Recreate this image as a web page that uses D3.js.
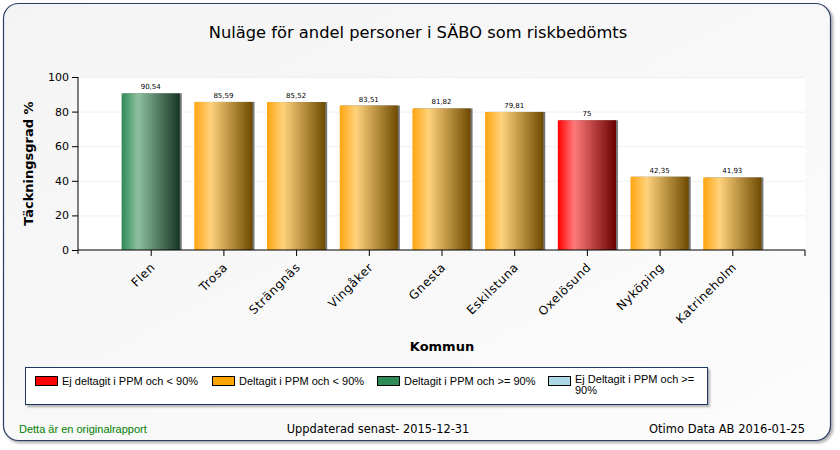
<!DOCTYPE html>
<html>
<head>
<meta charset="utf-8">
<script src="https://cdn.jsdelivr.net/npm/d3@7"></script>
<style>
  body { margin: 0; background: #fff; }
  svg { display: block; }
</style>
</head>
<body>
<svg id="chart" width="840" height="450"></svg>
<script>
// data
var kommuner = ["Flen", "Trosa", "Strängnäs", "Vingåker", "Gnesta", "Eskilstuna", "Oxelösund", "Nyköping", "Katrineholm"];
var andel = [90.54, 85.59, 85.52, 83.51, 81.82, 79.81, 75, 42.35, 41.93];
var grupp = ["green", "orange", "orange", "orange", "orange", "orange", "red", "orange", "orange"];
var yTicks = [0, 20, 40, 60, 80, 100];
var legendText = ["Ej deltagit i PPM och < 90%", "Deltagit i PPM och < 90%", "Deltagit i PPM och >= 90%", "Ej Deltagit i PPM och >= 90%"];
var legendColor = ["#ff0000", "#ffa500", "#2e8b57", "#add8e6"];

var svg = d3.select("#chart");
var verdana = "Verdana, 'DejaVu Sans', sans-serif";
var arial = "Arial, 'Liberation Sans', sans-serif";

var defs = svg.append("defs");

// bar gradients: bright left, light band, dark right
var grads = {
  orange: ["#ffa510", "#ffd27c", "#6e4a00"],
  green: ["#2e8b57", "#8fc0a0", "#153524"],
  red: ["#ff0000", "#ff7a7a", "#6a0000"]
};
Object.keys(grads).forEach(function(k) {
  var g = defs.append("linearGradient").attr("id", "g-" + k)
      .attr("x1", "0%").attr("x2", "100%").attr("y1", "0%").attr("y2", "0%");
  g.append("stop").attr("offset", "0%").attr("stop-color", grads[k][0]);
  g.append("stop").attr("offset", "28%").attr("stop-color", grads[k][1]);
  g.append("stop").attr("offset", "100%").attr("stop-color", grads[k][2]);
});

var bg = defs.append("linearGradient").attr("id", "bg")
    .attr("x1", "0%").attr("y1", "0%").attr("x2", "100%").attr("y2", "100%");
bg.append("stop").attr("offset", "0%").attr("stop-color", "#f4f4f4");
bg.append("stop").attr("offset", "100%").attr("stop-color", "#fcfcfc");

var shadow = defs.append("filter").attr("id", "shadow")
    .attr("x", "-5%").attr("y", "-5%").attr("width", "110%").attr("height", "115%");
shadow.append("feDropShadow").attr("dx", 2).attr("dy", 2).attr("stdDeviation", 1.5)
    .attr("flood-color", "#000").attr("flood-opacity", 0.35);

// outer panel
svg.append("rect")
    .attr("x", 3.5).attr("y", 3.5).attr("width", 827).attr("height", 437)
    .attr("rx", 15).attr("ry", 15)
    .attr("fill", "url(#bg)").attr("stroke", "#2b3e66").attr("stroke-width", 1.2)
    .attr("filter", "url(#shadow)");

svg.append("text")
    .attr("x", 418).attr("y", 38)
    .attr("text-anchor", "middle")
    .style("font-family", verdana).style("font-size", "16.3px").attr("fill", "#000")
    .text("Nuläge för andel personer i SÄBO som riskbedömts");

var margin = { left: 78, right: 805, top: 77, bottom: 250 };

var x = d3.scalePoint()
    .domain(kommuner)
    .range([margin.left, margin.right])
    .padding(1);

var y = d3.scaleLinear()
    .domain([0, 100])
    .range([margin.bottom, margin.top]);

var barW = x.step() * 0.8;

// white plot area
svg.append("rect")
    .attr("x", margin.left).attr("y", margin.top)
    .attr("width", margin.right - margin.left).attr("height", margin.bottom - margin.top)
    .attr("fill", "#fff");

// grid
svg.append("g").selectAll("line")
    .data(yTicks.slice(1))
    .enter().append("line")
    .attr("x1", margin.left).attr("x2", margin.right)
    .attr("y1", function(d) { return y(d) + 0.5; })
    .attr("y2", function(d) { return y(d) + 0.5; })
    .attr("stroke", "#efefef");

// bars
var bars = svg.append("g").selectAll("g")
    .data(kommuner)
    .enter().append("g");

bars.append("rect")
    .attr("x", function(d) { return x(d) - barW / 2 + 2; })
    .attr("y", function(d, i) { return y(andel[i]); })
    .attr("width", barW)
    .attr("height", function(d, i) { return y(0) - y(andel[i]); })
    .attr("fill", "#777");

bars.append("rect")
    .attr("x", function(d) { return x(d) - barW / 2; })
    .attr("y", function(d, i) { return y(andel[i]); })
    .attr("width", barW)
    .attr("height", function(d, i) { return y(0) - y(andel[i]); })
    .attr("fill", function(d, i) { return "url(#g-" + grupp[i] + ")"; });

bars.append("text")
    .attr("x", function(d) { return x(d); })
    .attr("y", function(d, i) { return y(andel[i]) - 4; })
    .attr("text-anchor", "middle")
    .style("font-family", verdana).style("font-size", "7px").attr("fill", "#000")
    .text(function(d, i) { return String(andel[i]).replace(".", ","); });

// axes
var yAxis = svg.append("g")
    .attr("transform", "translate(" + margin.left + ",0)")
    .call(d3.axisLeft(y).tickValues(yTicks).tickSize(6).tickPadding(3));
yAxis.select(".domain").attr("d", "M0," + (margin.top) + "V" + (margin.bottom + 4));
yAxis.selectAll("text")
    .style("font-family", verdana).style("font-size", "11px").attr("fill", "#000");

var xAxis = svg.append("g")
    .attr("transform", "translate(0," + margin.bottom + ")")
    .call(d3.axisBottom(x).tickSize(6).tickSizeOuter(6).tickFormat(""));
xAxis.select(".domain").attr("d", "M" + margin.left + ",0H" + margin.right + "V6");

svg.append("g").selectAll("text")
    .data(kommuner)
    .enter().append("text")
    .attr("transform", function(d) { return "translate(" + (x(d) + 5) + "," + (margin.bottom + 18) + ") rotate(-45)"; })
    .attr("text-anchor", "end")
    .style("font-family", verdana).style("font-size", "12px").style("letter-spacing", "0.6px").attr("fill", "#000")
    .text(function(d) { return d; });

svg.append("text")
    .attr("transform", "translate(33," + ((margin.top + margin.bottom) / 2) + ") rotate(-90)")
    .attr("text-anchor", "middle")
    .style("font-family", verdana).style("font-size", "13px").style("font-weight", "bold")
    .text("Täckningsgrad %");

svg.append("text")
    .attr("x", 442).attr("y", 351)
    .attr("text-anchor", "middle")
    .style("font-family", verdana).style("font-size", "13px").style("font-weight", "bold")
    .text("Kommun");

// legend
var shadow2 = defs.append("filter").attr("id", "shadow2")
    .attr("x", "-2%").attr("y", "-20%").attr("width", "104%").attr("height", "150%");
shadow2.append("feDropShadow").attr("dx", 2).attr("dy", 2).attr("stdDeviation", 1)
    .attr("flood-color", "#000").attr("flood-opacity", 0.3);

svg.append("rect")
    .attr("x", 25.5).attr("y", 367.5).attr("width", 682).attr("height", 37)
    .attr("fill", "#fff").attr("stroke", "#1f3864").attr("stroke-width", 1)
    .attr("filter", "url(#shadow2)");

var legX = [35, 212, 377, 548];
var leg = svg.append("g").selectAll("g")
    .data(legendText)
    .enter().append("g")
    .attr("transform", function(d, i) { return "translate(" + legX[i] + ",376)"; });

leg.append("rect")
    .attr("x", 0.5).attr("y", 0.5).attr("width", 22).attr("height", 9)
    .attr("fill", function(d, i) { return legendColor[i]; })
    .attr("stroke", "#000");

leg.append("text")
    .attr("x", 27).attr("y", 9)
    .style("font-family", arial).style("font-size", "11px").attr("fill", "#000")
    .each(function(d, i) {
      var t = d3.select(this);
      if (i === 3) {
        t.append("tspan").attr("x", 27).attr("y", 7).text("Ej Deltagit i PPM och >=");
        t.append("tspan").attr("x", 27).attr("y", 18).text("90%");
      } else {
        t.text(d);
      }
    });

// footer
svg.append("text")
    .attr("x", 19).attr("y", 433)
    .style("font-family", arial).style("font-size", "11px").attr("fill", "#008000")
    .text("Detta är en originalrapport");

svg.append("text")
    .attr("x", 378).attr("y", 433)
    .attr("text-anchor", "middle")
    .style("font-family", verdana).style("font-size", "11.4px").attr("fill", "#000")
    .text("Uppdaterad senast- 2015-12-31");

svg.append("text")
    .attr("x", 805).attr("y", 433)
    .attr("text-anchor", "end")
    .style("font-family", verdana).style("font-size", "11.5px").attr("fill", "#000")
    .text("Otimo Data AB 2016-01-25");
</script>
</body>
</html>
